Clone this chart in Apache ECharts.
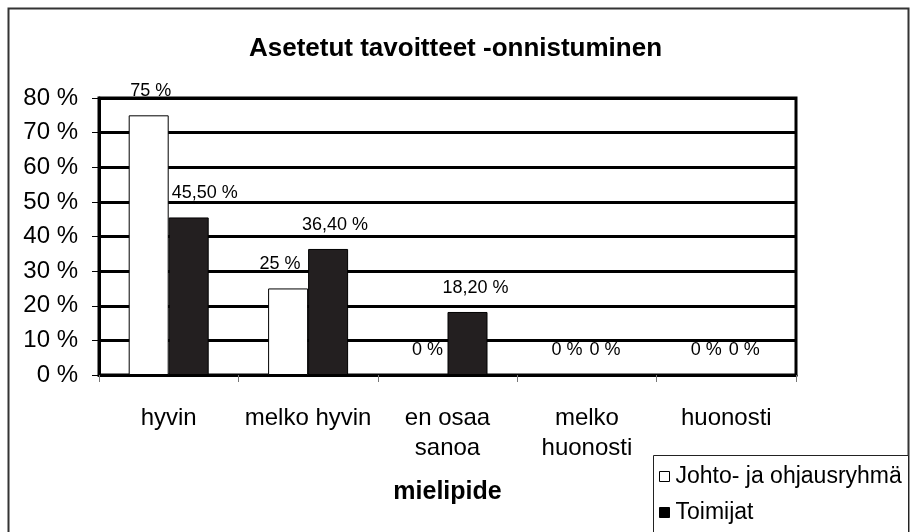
<!DOCTYPE html>
<html>
<head>
<meta charset="utf-8">
<script src="https://cdn.jsdelivr.net/npm/echarts@6/dist/echarts.min.js"></script>
<style>html,body{margin:0;padding:0;background:#fff}#c{width:911px;height:532px}</style>
</head>
<body>
<div id="c"></div>
<script>
var categories = ['hyvin', 'melko hyvin', 'en osaa\nsanoa', 'melko\nhuonosti', 'huonosti'];
var seriesNames = ['Johto- ja ohjausryhmä', 'Toimijat'];
var johtoValues = [75, 25, 0, 0, 0];
var toimijatValues = [45.5, 36.4, 18.2, 0, 0];
var yTicks = [0, 10, 20, 30, 40, 50, 60, 70, 80];

var FONT = 'Liberation Sans, Arial, sans-serif';
// horizontal nudges of value labels as placed in the original chart (style only)
var johtoLabelShift = [2, -8, 0, 0, 0];
var toimijatLabelShift = [16, 7, 8, -2, -2];

function fmtJohto(p) { return p.value + ' %'; }
function fmtToimijat(p) { return p.value === 0 ? '0 %' : p.value.toFixed(2).replace('.', ',') + ' %'; }
function withShift(values, shifts) {
  return values.map(function (v, i) { return {value: v, label: {offset: [shifts[i], 0]}}; });
}

function legendFor(name, top, fill) {
  return {
    orient: 'vertical', left: 659, top: top, padding: 0,
    itemWidth: 10, itemHeight: 10,
    textStyle: {fontFamily: FONT, fontSize: 23, color: '#000', padding: [0, 0, 0, 1]},
    data: [{name: name, icon: 'rect', itemStyle: {color: fill, borderColor: '#000', borderWidth: 1}}]
  };
}

var chart = echarts.init(document.getElementById('c'), null, {renderer: 'canvas'});
chart.setOption({
  animation: false,
  backgroundColor: '#fff',
  textStyle: {fontFamily: FONT, color: '#000'},
  title: {
    text: 'Asetetut tavoitteet -onnistuminen',
    left: 'center', top: 31,
    textStyle: {fontFamily: FONT, fontSize: 26, fontWeight: 'bold', color: '#000'}
  },
  graphic: [{
    type: 'rect', silent: true, z: -10,
    shape: {x: 8.5, y: 8.5, width: 900, height: 540},
    style: {fill: 'none', stroke: '#333', lineWidth: 2}
  }, {
    type: 'rect', silent: true, z: -9,
    shape: {x: 653.5, y: 455.5, width: 255, height: 90},
    style: {fill: '#fff', stroke: '#222', lineWidth: 1}
  }],
  legend: [legendFor(seriesNames[0], 465, '#fff'), legendFor(seriesNames[1], 501, '#000')],
  grid: {left: 99, right: 115, top: 98, bottom: 157, show: true, borderColor: '#000', borderWidth: 3},
  xAxis: {
    type: 'category', data: categories,
    name: 'mielipide', nameLocation: 'middle', nameGap: 105,
    nameTextStyle: {fontFamily: FONT, fontSize: 25, fontWeight: 'bold', color: '#000'},
    axisLine: {lineStyle: {color: '#000', width: 3}},
    axisTick: {show: true, length: 7, lineStyle: {color: '#777', width: 1}},
    axisLabel: {fontFamily: FONT, fontSize: 24, color: '#000', margin: 28, lineHeight: 30, interval: 0}
  },
  yAxis: {
    type: 'value', min: yTicks[0], max: yTicks[yTicks.length - 1], interval: 10,
    axisLine: {show: true, lineStyle: {color: '#000', width: 3}},
    axisTick: {show: true, length: 7, lineStyle: {color: '#000', width: 1}},
    axisLabel: {fontFamily: FONT, fontSize: 24, color: '#000', margin: 21, formatter: '{value} %'},
    splitLine: {show: true, lineStyle: {color: '#000', width: 3}}
  },
  series: [{
    name: seriesNames[0], type: 'bar', data: withShift(johtoValues, johtoLabelShift),
    barWidth: 40, barGap: 0,
    itemStyle: {color: '#fff', borderColor: '#000', borderWidth: 1},
    label: {show: true, position: 'top', distance: 15, fontFamily: FONT, fontSize: 18, color: '#000', formatter: fmtJohto}
  }, {
    name: seriesNames[1], type: 'bar', data: withShift(toimijatValues, toimijatLabelShift),
    barWidth: 40, barGap: 0,
    itemStyle: {color: '#231f20', borderColor: '#000', borderWidth: 1},
    label: {show: true, position: 'top', distance: 15, fontFamily: FONT, fontSize: 18, color: '#000', formatter: fmtToimijat}
  }]
});
</script>
</body>
</html>
